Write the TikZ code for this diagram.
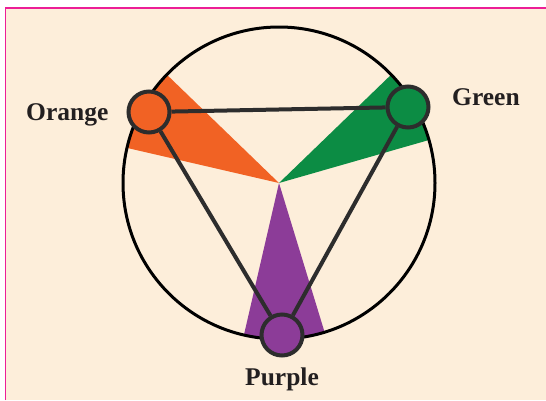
\documentclass[tikz,border=0pt]{standalone}
\usepackage{fontspec}
\setmainfont{Liberation Serif}
\definecolor{bgpeach}{RGB}{253,238,218}
\definecolor{framepink}{RGB}{236,30,150}
\definecolor{worange}{RGB}{241,98,36}
\definecolor{wgreen}{RGB}{12,140,68}
\definecolor{wpurple}{RGB}{140,60,152}
\definecolor{darkline}{RGB}{45,45,45}
\definecolor{labeltext}{RGB}{35,31,32}
\tikzset{
  dot/.style={circle, draw=darkline, line width=4pt, minimum size=41pt, inner sep=0pt},
  link/.style={draw=darkline, line width=4pt},
  lbl/.style={font=\bfseries\fontsize{25.5}{30}\selectfont, text=labeltext, inner sep=0pt, anchor=base west}
}
\begin{document}
\begin{tikzpicture}[x=1pt,y=-1pt]
\useasboundingbox (0,0) rectangle (546,400);
\fill[white] (0,0) rectangle (546,400);
\fill[bgpeach] (5.5,8) rectangle (546,400);
\draw[framepink, line width=1.8pt] (5.5,400) -- (5.5,8) -- (546,8);
\coordinate (c) at (279,183);
% wedges
\fill[worange] (c) -- ++(136:156 and -156) arc[start angle=136, end angle=167, x radius=156, y radius=-156] -- cycle;
\fill[wgreen] (c) -- ++(16:156 and -156) arc[start angle=16, end angle=44, x radius=156, y radius=-156] -- cycle;
\fill[wpurple] (c) -- ++(-103:156 and -156) arc[start angle=-103, end angle=-73, x radius=156, y radius=-156] -- cycle;
% big circle
\draw[black, line width=3pt] (c) circle[radius=156];
% small circles
\node[dot, fill=worange] (o) at (149,112) {};
\node[dot, fill=wgreen] (g) at (408,107) {};
\node[dot, fill=wpurple] (p) at (282,335) {};
\draw[link] (o) -- (g);
\draw[link] (g) -- (p);
\draw[link] (p) -- (o);
% labels
\node[lbl] (lo) at (26,120) {Orange};
\node[lbl] (lg) at (452,105) {Green};
\node[lbl] (lp) at (245,385) {Purple};
\end{tikzpicture}
\end{document}
